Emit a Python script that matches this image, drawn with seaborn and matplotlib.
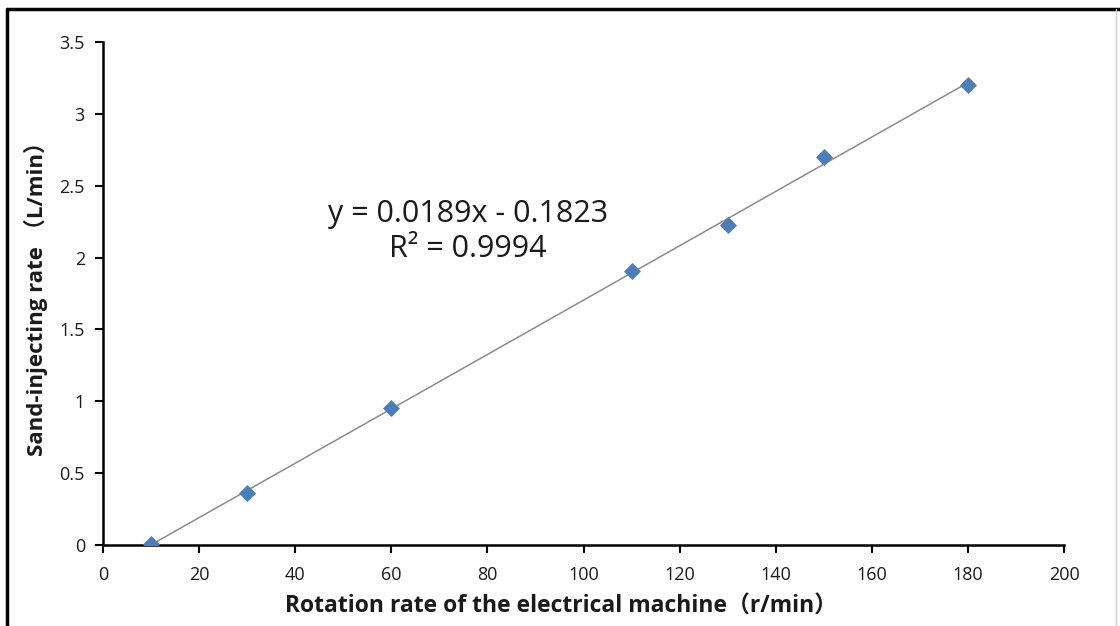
import numpy as np
import matplotlib
matplotlib.use('Agg')
import matplotlib.pyplot as plt
import seaborn as sns
from matplotlib.lines import Line2D

# Data
rotation_rate = [10, 30, 60, 110, 130, 150, 180]
sand_rate = [0.01, 0.365, 0.953, 1.905, 2.225, 2.70, 3.20]
x_ticks = [0, 20, 40, 60, 80, 100, 120, 140, 160, 180, 200]
y_ticks = [0, 0.5, 1, 1.5, 2, 2.5, 3, 3.5]
y_ticklabels = ['0', '0.5', '1', '1.5', '2', '2.5', '3', '3.5']

sns.set_theme(style='white')
plt.rcParams['font.family'] = ['Open Sans', 'Noto Sans CJK SC', 'DejaVu Sans']

fig = plt.figure(figsize=(11.2, 6.26), dpi=100)
ax = fig.add_axes([0.092, 0.1294, 0.858, 0.8036])

sns.regplot(x=rotation_rate, y=sand_rate, ax=ax, ci=None, truncate=True,
            marker='D',
            scatter_kws={'s': 75, 'color': '#4a7ebb', 'alpha': 1, 'zorder': 3,
                         'linewidths': 0},
            line_kws={'color': '#8c8c8c', 'lw': 1.1, 'zorder': 2})

ax.set_xlim(0, 200)
ax.set_ylim(0, 3.5)
ax.set_xticks(x_ticks)
ax.set_xticklabels([str(t) for t in x_ticks])
ax.set_yticks(y_ticks)
ax.set_yticklabels(y_ticklabels)
ax.tick_params(axis='both', direction='out', length=6, width=1.5, color='black',
               labelsize=13, labelcolor='#1a1a1a', bottom=True, left=True)
ax.tick_params(axis='x', pad=9)
ax.tick_params(axis='y', pad=7)

for side in ['top', 'right']:
    ax.spines[side].set_visible(False)
for side in ['left', 'bottom']:
    ax.spines[side].set_color('black')
    ax.spines[side].set_linewidth(1.8)

ax.set_xlabel('Rotation rate of the electrical machine（r/min）', fontsize=16.5,
              fontweight='bold', color='#1a1a1a')
ax.set_ylabel('Sand-injecting rate （L/min）', fontsize=16,
              fontweight='bold', color='#1a1a1a', labelpad=8)
ax.xaxis.set_label_coords(0.477, -0.098)

slope, intercept = np.polyfit(rotation_rate, sand_rate, 1)
ax.text(76, 2.18, 'y = 0.0189x - 0.1823\nR² = 0.9994', ha='center', va='center',
        fontsize=22, color='#1a1a1a', linespacing=1.2)

# outer frame
fig.add_artist(Line2D([0.00625, 1.0], [0.9856, 0.9856], transform=fig.transFigure,
                      color='black', lw=2.5))
fig.add_artist(Line2D([0.00625, 0.00625], [0.0, 0.9856], transform=fig.transFigure,
                      color='black', lw=2.5))
fig.add_artist(Line2D([0.996, 0.996], [0.0, 0.9856], transform=fig.transFigure,
                      color='#d0d0d0', lw=1))

fig.savefig('out.png', dpi=100)
plt.close(fig)
